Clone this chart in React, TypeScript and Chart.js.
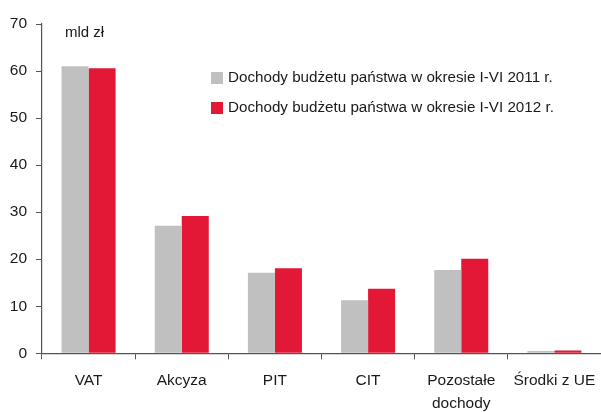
import React, { useEffect, useRef } from "react";
import { Chart, registerables } from "chart.js";

Chart.register(...registerables);

const categories: (string | string[])[] = ["VAT", "Akcyza", "PIT", "CIT", ["Pozostałe", "dochody"], "Środki z UE"];
const series2011 = [61.0, 27.1, 17.1, 11.3, 17.7, 0.5];
const series2012 = [60.6, 29.2, 18.1, 13.7, 20.1, 0.6];
const seriesLabels = [
  "Dochody budżetu państwa w okresie I-VI 2011 r.",
  "Dochody budżetu państwa w okresie I-VI 2012 r.",
];
const unitLabel = "mld zł";
const FONT = "'Liberation Sans', Arial, sans-serif";

export default function App() {
  const ref = useRef<HTMLCanvasElement>(null);
  useEffect(() => {
    document.body.style.margin = "0";
    const overlay = {
      id: "overlay",
      afterDraw(chart: any) {
        const ctx = chart.ctx;
        ctx.save();
        ctx.font = `15px ${FONT}`;
        ctx.fillStyle = "#1a1a1a";
        ctx.textBaseline = "middle";
        ctx.textAlign = "left";
        ctx.fillText(unitLabel, 65, 33);
        ctx.font = `15.2px ${FONT}`;
        const rows = [78, 108];
        chart.data.datasets.forEach((ds: any, i: number) => {
          ctx.fillStyle = ds.backgroundColor;
          ctx.fillRect(211, rows[i] - 6, 12, 12);
          ctx.fillStyle = "#1a1a1a";
          ctx.fillText(ds.label, 228, rows[i]);
        });
        ctx.restore();
      },
    };
    const chart = new Chart(ref.current!, {
      type: "bar",
      data: {
        labels: categories,
        datasets: [
          { label: seriesLabels[0], data: series2011, backgroundColor: "#c0c0c0" },
          { label: seriesLabels[1], data: series2012, backgroundColor: "#e31837" },
        ],
      },
      options: {
        animation: false,
        responsive: false,
        maintainAspectRatio: false,
        datasets: { bar: { categoryPercentage: 0.58, barPercentage: 1 } },
        layout: { padding: { top: 24, left: 0, right: -1, bottom: 0 } },
        plugins: { legend: { display: false }, tooltip: { enabled: false } },
        scales: {
          x: {
            grid: { drawOnChartArea: false, drawTicks: true, tickLength: 6, color: "#555", offset: true },
            border: { display: true, color: "#555", width: 1.2 },
            ticks: { color: "#1a1a1a", font: { family: FONT, size: 15.5, lineHeight: 1.48 }, padding: 10, maxRotation: 0, autoSkip: false },
            afterFit(scale: any) {
              scale.height = 58.7;
              scale.paddingLeft = 0;
              scale.paddingRight = 0;
            },
          },
          y: {
            min: 0,
            max: 70,
            grid: { drawOnChartArea: false, drawTicks: true, tickLength: 6, color: "#555" },
            border: { display: true, color: "#555", width: 1.2 },
            ticks: { stepSize: 10, color: "#1a1a1a", font: { family: FONT, size: 15.5 }, padding: 9 },
            afterFit(scale: any) {
              scale.width = 42;
              scale.paddingTop = 0;
              scale.paddingBottom = 0;
            },
          },
        },
      },
      plugins: [overlay],
    });
    return () => chart.destroy();
  }, []);
  return <canvas ref={ref} width={601} height={412} style={{ display: "block" }} />;
}
